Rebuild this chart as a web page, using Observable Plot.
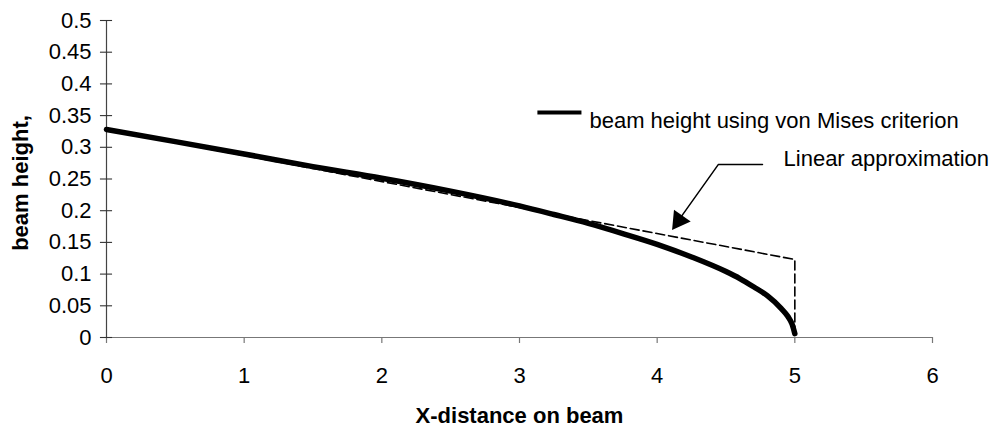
<!DOCTYPE html>
<html><head><meta charset="utf-8">
<script src="https://cdn.jsdelivr.net/npm/d3@7"></script>
<script src="https://cdn.jsdelivr.net/npm/@observablehq/plot@0.6"></script>
<style>
html,body{margin:0;padding:0;background:#fff;}
#chart svg{display:block;}
</style>
</head><body><div id="chart"></div>
<script>
// ---- data ----
const xTicks = [0, 1, 2, 3, 4, 5, 6];
const yTicks = [0, 0.05, 0.1, 0.15, 0.2, 0.25, 0.3, 0.35, 0.4, 0.45, 0.5];
const seriesNames = ["beam height using von Mises criterion", "Linear approximation"];
const xTitle = "X-distance on beam";
const yTitle = "beam height,";

// von Mises beam height curve
const vmX = [0, 0.5, 1, 1.5, 2, 2.5, 3, 3.25, 3.5, 3.75, 4, 4.25, 4.5, 4.6, 4.7, 4.8, 4.9, 4.95, 4.98, 5.0];
const vmY = [0.328, 0.309, 0.2895, 0.2695, 0.2512, 0.2308, 0.2075, 0.194, 0.180, 0.164, 0.147, 0.127, 0.104, 0.093, 0.080, 0.066, 0.046, 0.033, 0.021, 0.006];

// linear approximation (dashed)
const linX = [0, 5, 5];
const linY = [0.328, 0.123, 0];

const vm = vmX.map((x, i) => ({x, y: vmY[i]}));
const lin = linX.map((x, i) => ({x, y: linY[i]}));

const font = "'Liberation Sans', Arial, Helvetica, sans-serif";
const FS = 22;

const chart = Plot.plot({
  width: 991,
  height: 428,
  marginLeft: 106,
  marginRight: 59,
  marginTop: 20,
  marginBottom: 91,
  style: {fontFamily: font, fontSize: FS + "px", background: "#fff", color: "#000"},
  x: {domain: [0, 6], axis: null},
  y: {domain: [0, 0.5], axis: null},
  marks: [
    // axis lines
    Plot.ruleY([0], {stroke: "#777", strokeWidth: 1.2}),
    Plot.ruleX([0], {stroke: "#444", strokeWidth: 1.2}),
    // ticks
    Plot.ruleX(xTicks, {x: d => d, y1: 0, y2: -0.0095, stroke: "#777", strokeWidth: 1.2}),
    Plot.ruleY(yTicks, {y: d => d, x1: -0.044, x2: 0.044, stroke: "#333", strokeWidth: 1.1}),
    // tick labels
    Plot.text(xTicks, {x: d => d, y: 0, dy: 38, text: d => String(d), textAnchor: "middle", lineAnchor: "middle", fontSize: FS, fill: "#000"}),
    Plot.text(yTicks, {x: 0, y: d => d, dx: -15, text: d => String(d), textAnchor: "end", lineAnchor: "middle", fontSize: FS, fill: "#000"}),
    // series
    Plot.line(lin, {x: "x", y: "y", stroke: "#000", strokeWidth: 1.6, strokeDasharray: "9,4"}),
    Plot.line(vm, {x: "x", y: "y", stroke: "#000", strokeWidth: 5.5, curve: "monotone-x"}),
    // legend
    Plot.link([0], {x1: 3.13, x2: 3.45, y1: 0.355, y2: 0.355, stroke: "#000", strokeWidth: 4}),
    Plot.text([seriesNames[0]], {x: 3.508, y: 0.342, text: d => d, textAnchor: "start", fontSize: FS, fill: "#000"}),
    // annotation: linear approximation
    Plot.text([seriesNames[1]], {x: 4.918, y: 0.281, text: d => d, textAnchor: "start", fontSize: FS, fill: "#000"}),
    Plot.line([[4.765, 0.273], [4.445, 0.273], [4.14, 0.18]], {stroke: "#000", strokeWidth: 1.5}),
    Plot.dot([0], {x: () => 4.158, y: () => 0.1847, symbol: "triangle", r: 7.6, rotate: 215.4, fill: "#000", stroke: "none"}),
    // axis titles
    Plot.text([xTitle], {frameAnchor: "bottom", dy: 78, text: d => d, textAnchor: "middle", lineAnchor: "middle", fontWeight: "bold", fontSize: FS, fill: "#000"}),
    Plot.text([yTitle], {frameAnchor: "left", dx: -86, dy: 4, rotate: -90, text: d => d, textAnchor: "middle", lineAnchor: "middle", fontWeight: "bold", fontSize: FS, fill: "#000"})
  ]
});
document.getElementById("chart").append(chart);
</script>
</body></html>
